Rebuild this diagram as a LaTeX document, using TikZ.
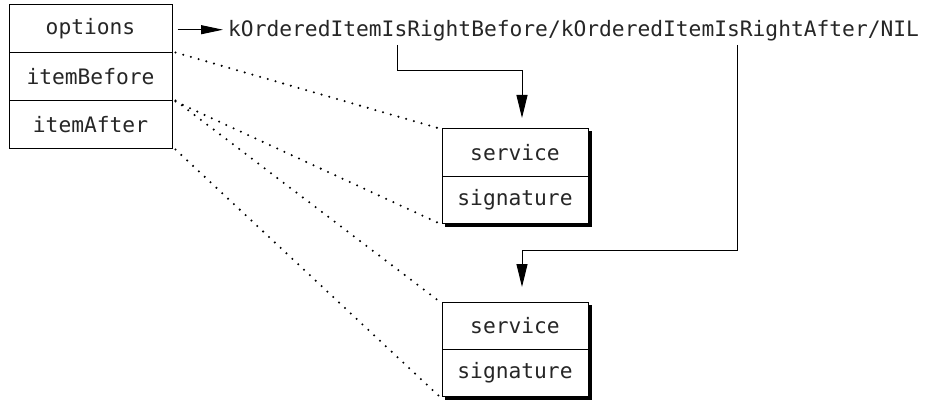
\documentclass[tikz,border=0pt]{standalone}
\usepackage{fontspec}
\newfontfamily\monofnt{DejaVu Sans Mono}
\usetikzlibrary{arrows.meta,backgrounds,calc}
\tikzset{
  cell/.style={draw, fill=white, line width=1pt, inner sep=0pt, text=black!85, font=\monofnt\fontsize{21.25}{25}\selectfont},
  leftcell/.style={cell, minimum width=163pt, minimum height=48pt},
  rightcell/.style={cell, minimum width=146pt, minimum height=47pt},
  link/.style={line width=2.3pt, line cap=round, dash pattern=on 0pt off 8pt},
  flow/.style={line width=1pt, -{Triangle[length=23pt,width=11pt]}},
  rflow/.style={line width=1pt, -{Triangle[length=22pt,width=9pt]}},
  shadowbox/.style={fill=black}
}
\begin{document}
\begin{tikzpicture}[x=1pt,y=-1pt]
\useasboundingbox (0,0) rectangle (926,401);
% left record
\node[leftcell] (opt) at (90.5,29) {options};
\node[leftcell] (ib) at (90.5,77) {itemBefore};
\node[leftcell] (ia) at (90.5,125) {itemAfter};
% constant text
\node[anchor=base west, inner xsep=5pt, inner ysep=3pt, text=black!85, font=\monofnt\fontsize{21.25}{25}\selectfont] (k) at (223,37) {kOrderedItemIsRightBefore/kOrderedItemIsRightAfter/NIL};
% right records
\node[rightcell] (s1) at (515,152.5) {service};
\node[rightcell] (g1) at (515,199.5) {signature};
\node[rightcell] (s2) at (515,325.5) {service};
\node[rightcell] (g2) at (515,372.5) {signature};
\begin{scope}[on background layer]
  \fill[shadowbox] ($(s1.north west)+(3,3)$) rectangle ($(g1.south east)+(3,3)$);
  \fill[shadowbox] ($(s2.north west)+(3,3)$) rectangle ($(g2.south east)+(3,3)$);
\end{scope}
% arrow options -> text
\draw[rflow] ([xshift=5pt,yshift=1.5pt]opt.east |- k.west) -- ([yshift=1.5pt]k.west);
% connectors from the text
\coordinate (a1) at (397,45);
\coordinate (t1) at (522,118);
\coordinate (a2) at (737,45);
\coordinate (t2) at (522,287);
\draw[flow] (a1 |- k.south) |- (522,71) -- (t1);
\draw[flow] (a2 |- k.south) |- (522,250) -- (t2);
% dotted links
\draw[link] ([xshift=3pt]ib.north east) -- ([xshift=-2pt]s1.north west);
\draw[link] ([xshift=3pt]ib.south east) -- ([xshift=-2pt]g1.south west);
\draw[link] ([xshift=3pt]ia.north east) -- ([xshift=-2pt]s2.north west);
\draw[link] ([xshift=3pt]ia.south east) -- ([xshift=-2pt]g2.south west);
\end{tikzpicture}
\end{document}
